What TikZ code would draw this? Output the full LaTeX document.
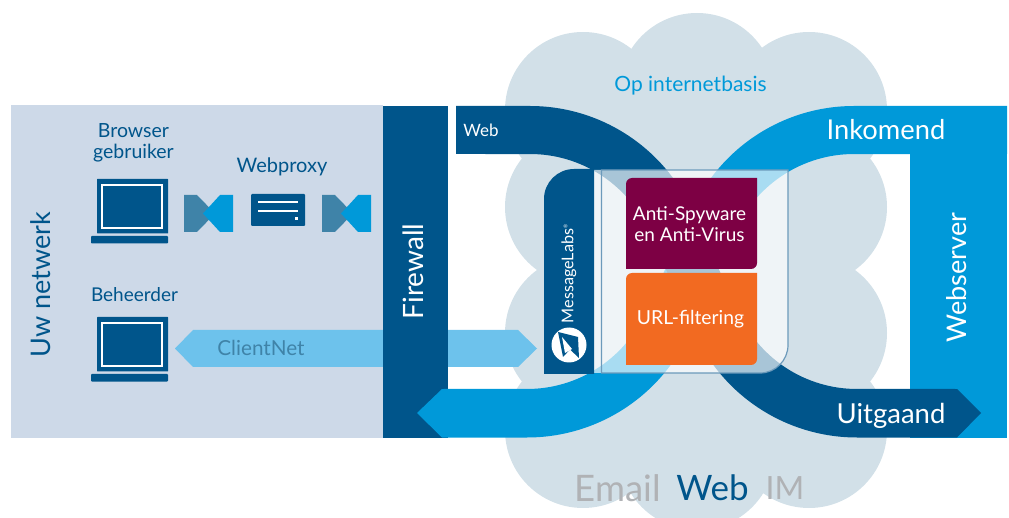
\documentclass[tikz,border=0pt]{standalone}
\usepackage{fontspec}
\setmainfont{Lato}
\definecolor{dkblue}{HTML}{00558B}
\definecolor{ltblue}{HTML}{0099D9}
\definecolor{cloudc}{HTML}{D2E0E8}
\definecolor{panelc}{HTML}{CDD9E8}
\definecolor{skyc}{HTML}{6DC2EC}
\definecolor{tealc}{HTML}{3F83A8}
\definecolor{plumc}{HTML}{7D0044}
\definecolor{orangec}{HTML}{F26A21}
\definecolor{greyc}{HTML}{B0B2B5}
\definecolor{boxline}{HTML}{6C9ABB}
\newcommand{\fs}[1]{\fontsize{#1}{#1}\selectfont}
\tikzset{
  label txt/.style={inner sep=0pt,outer sep=0pt,align=center,text=dkblue},
  white txt/.style={inner sep=0pt,outer sep=0pt,align=center,text=white},
}
\begin{document}
\begin{tikzpicture}[x=1pt,y=1pt,yscale=-1]
\useasboundingbox (0,0) rectangle (1009,518);
\clip (0,0) rectangle (1009,518);
% cloud
\fill[cloudc] (583,110) circle (78) (583,207) circle (78) (583,333) circle (78) (583,430) circle (78)
  (809,110) circle (78) (809,207) circle (78) (809,333) circle (78) (809,430) circle (78)
  (697,91) circle (78) (697,452) circle (78);
\fill[cloudc] (583,70) rectangle (809,480);
% left panel
\fill[panelc] (11,105) rectangle (383,438);
% clientnet arrow
\fill[skyc] (175,348.5) -- (193,330) -- (518,330) -- (537,348.5) -- (518,367) -- (193,367) -- cycle;
% firewall, webserver
\fill[dkblue] (383,106) rectangle (448,438);
\fill[ltblue] (910,106) rectangle (1007,438);
% light band
\fill[ltblue] (1007,106) -- (854,106) arc (-90:-155.5:178) -- (645.3,312.9) arc (24.5:90:130)
  -- (442,389) -- (417,413) -- (442,437.5) -- (527,437.5) arc (90:24.5:178.5) -- (735.7,230.1) arc (-155.5:-90:130) -- (1007,154) -- cycle;
% dark band
\fill[dkblue] (456,106) -- (530,106) arc (-90:-24.5:178) -- (738.7,312.9) arc (155.5:90:130)
  -- (957,389) -- (981,413) -- (957,437.5) -- (857,437.5) arc (90:155.5:178.5) -- (648.3,230.1) arc (-24.5:-90:130) -- (456,154) -- cycle;
% translucent box
\fill[white,fill opacity=.66] (594,170) -- (788,170) -- (788,345) arc (0:90:28) -- (594,373) -- cycle;
\draw[boxline,line width=1.2pt] (601.5,170) -- (788,170) -- (788,345) arc (0:90:28) -- (601.5,373) -- cycle;
% messagelabs tab
\fill[dkblue] (594,169) -- (574,169) arc (-90:-180:30) -- (544,374) -- (594,374) -- cycle;
\fill[white] (569,345) circle (17.5);
\fill[dkblue] (558,332) -- (578,337) -- (579,358) -- (570,349.5) -- (563,357) -- cycle;
\fill[white] (562,337) -- (572,349) -- (565,353) -- cycle;
\node[white txt,rotate=90] (mlabs) at (569,274) {\fs{16.2}MessageLabs\raisebox{6pt}{\fs{5}®}};
% purple + orange
\fill[plumc] (626,184) arc (180:270:6) -- (757,178) -- (757,263) arc (0:90:6) -- (626,269) -- cycle;
\fill[orangec] (626,279) arc (180:270:6) -- (757,273) -- (757,359) arc (0:90:6) -- (626,365) -- cycle;
\node[white txt,font=\fs{19}] (antis) at (689.5,224) {Anti-Spyware\\[2pt]en Anti-Virus};
\node[white txt] (url) at (690.5,319.5) {\fs{19.3}URL-filtering};
% laptops
\foreach \n/\yy in {a/0,b/138}{
  \begin{scope}[shift={(0,\yy)}]
  \fill[dkblue,rounded corners=.5pt] (97,179) rectangle (168,233.5);
  \draw[white,line width=1.1pt] (102,185) rectangle (162,228);
  \fill[dkblue,rounded corners=.8pt] (91,236) rectangle (168,243.5);
  \end{scope}
}
% bowties
\foreach \n/\xx in {c/0,d/138}{
  \begin{scope}[shift={(\xx,0)}]
  \fill[tealc] (184,195) -- (197,195) -- (215,213.5) -- (197,232) -- (184,232) -- cycle;
  \fill[ltblue] (233,195) -- (220,195) -- (203,213.5) -- (220,232) -- (233,232) -- cycle;
  \end{scope}
}
% server
\fill[dkblue,rounded corners=1pt] (251,194) rectangle (305,226);
\draw[white,line width=1.1pt] (258,202) -- (298,202) (258,211) -- (298,211);
\fill[white] (294.5,217) rectangle (297.5,220.5);
% texts
\node[label txt,font=\fs{19.5}] (browser) at (133.5,142.5) {Browser\\[1.5pt]gebruiker};
\node[label txt] (proxy) at (282,166.5) {\fs{20}Webproxy};
\node[label txt] (beheer) at (134.5,295) {\fs{19}Beheerder};
\node[label txt,rotate=90] (uw) at (41,284.5) {\fs{27}Uw netwerk};
\node[white txt,rotate=90] (fw) at (413,271.5) {\fs{28}Firewall};
\node[label txt,text=tealc] (cn) at (261,348) {\fs{20.7}ClientNet};
\node[white txt] (web) at (481,130) {\fs{17}Web};
\node[label txt,text=ltblue] (op) at (690.5,86) {\fs{21}Op internetbasis};
\node[white txt] (ink) at (886,130) {\fs{27.3}Inkomend};
\node[white txt,rotate=90] (ws) at (957,277.5) {\fs{27.1}Webserver};
\node[white txt] (uit) at (891,416) {\fs{27.5}Uitgaand};
\node[label txt,text=greyc] (em) at (617.5,488) {\fs{36.5}Email};
\node[label txt] (wb) at (712.5,488) {\fs{35}Web};
\node[label txt,text=greyc] (im) at (785,488) {\fs{32}IM};
\end{tikzpicture}
\end{document}
